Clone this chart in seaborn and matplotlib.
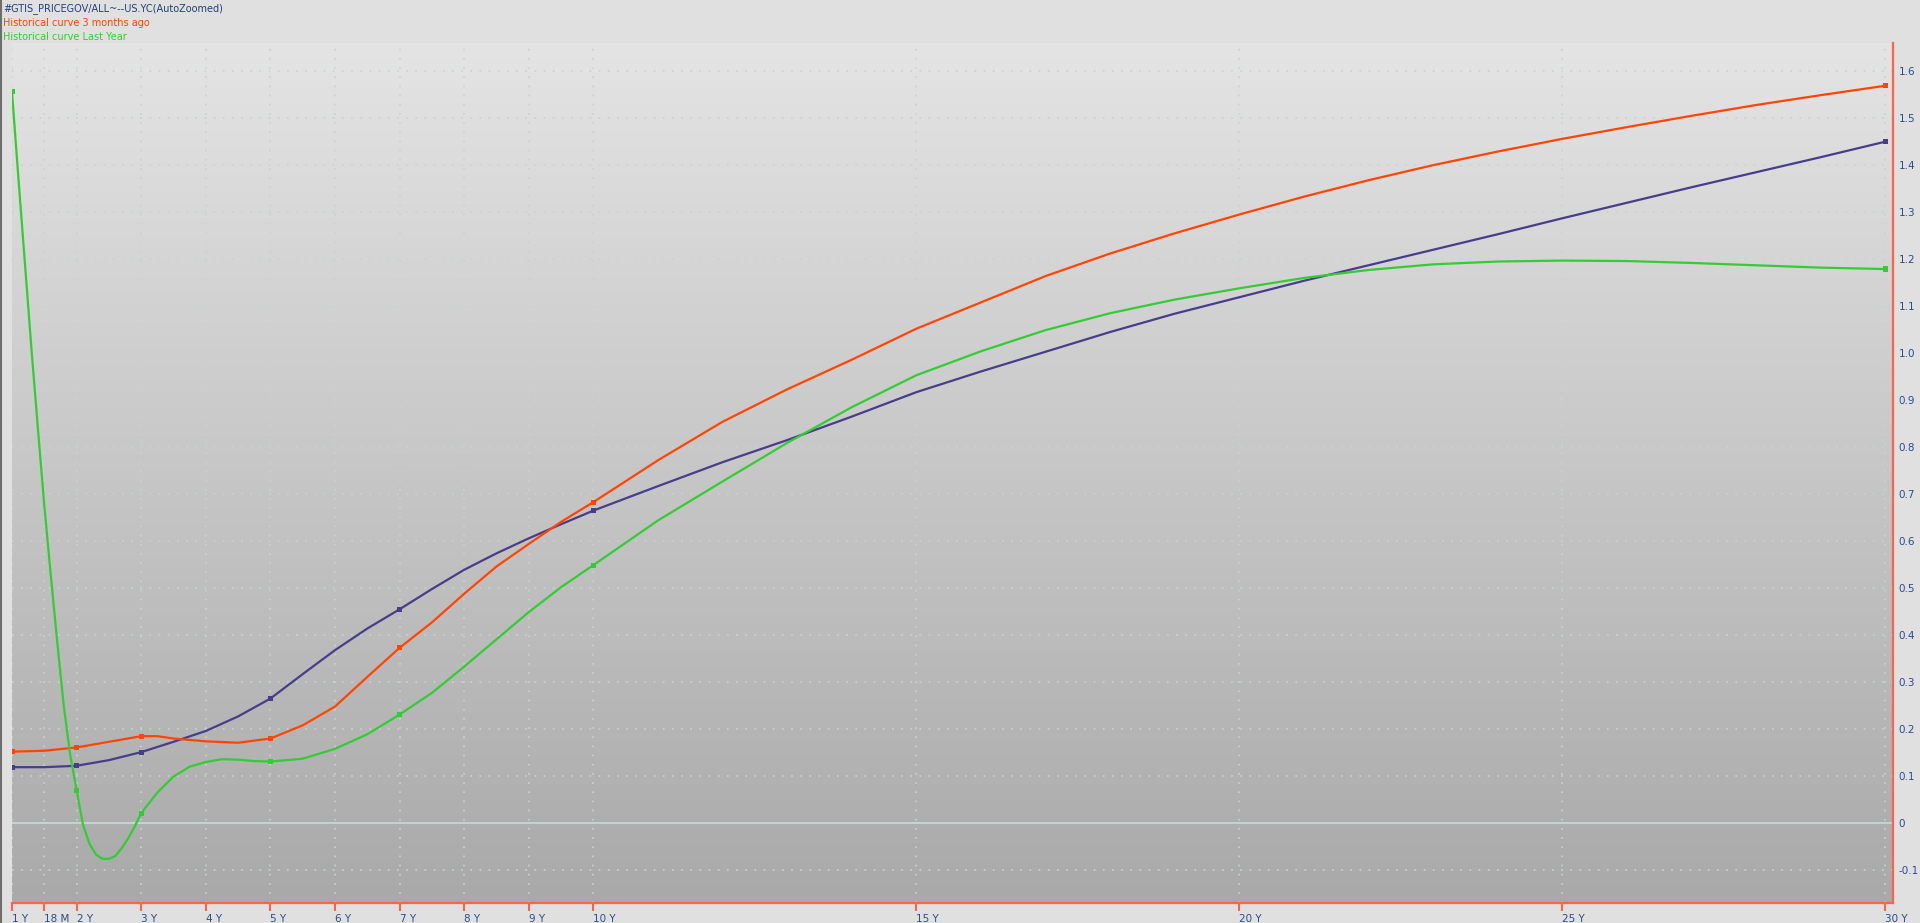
import numpy as np
import pandas as pd
import matplotlib
matplotlib.use("Agg")
import matplotlib.pyplot as plt
from matplotlib.colors import LinearSegmentedColormap
from matplotlib.lines import Line2D
import seaborn as sns

# --- data (tenor in years, yield in %) ---
CURRENT_T = [1, 1.5, 2, 2.5, 3, 3.5, 4, 4.5, 5, 5.5, 6, 6.5, 7, 7.5, 8, 8.5, 9, 9.5, 10,
             11, 12, 13, 14, 15, 16, 17, 18, 19, 20, 21, 22, 23, 24, 25, 26, 27, 28, 29, 30]
CURRENT_V = [0.118, 0.118, 0.121, 0.133, 0.150, 0.172, 0.195, 0.226, 0.264, 0.316, 0.367,
             0.413, 0.454, 0.497, 0.538, 0.573, 0.605, 0.635, 0.664, 0.716, 0.767, 0.814,
             0.864, 0.916, 0.960, 1.002, 1.044, 1.083, 1.118, 1.153, 1.186, 1.219, 1.252,
             1.286, 1.319, 1.352, 1.384, 1.416, 1.449]

M3_T = [1, 1.5, 2, 2.5, 3, 3.25, 3.5, 4, 4.5, 5, 5.5, 6, 6.5, 7, 7.5, 8, 8.5, 9, 9.5, 10,
        11, 12, 13, 14, 15, 16, 17, 18, 19, 20, 21, 22, 23, 24, 25, 26, 27, 28, 29, 30]
M3_V = [0.151, 0.153, 0.160, 0.172, 0.184, 0.184, 0.179, 0.173, 0.170, 0.179, 0.207, 0.247,
        0.310, 0.372, 0.426, 0.487, 0.545, 0.593, 0.640, 0.682, 0.771, 0.853, 0.922, 0.985,
        1.051, 1.107, 1.163, 1.211, 1.254, 1.294, 1.332, 1.367, 1.399, 1.428, 1.455, 1.480,
        1.504, 1.527, 1.548, 1.568]

Y1_T = [1, 1.1, 1.2, 1.3, 1.4, 1.5, 1.6, 1.7, 1.8, 1.9, 2, 2.1, 2.2, 2.3, 2.4, 2.5, 2.6,
        2.7, 2.8, 2.9, 3, 3.25, 3.5, 3.75, 4, 4.25, 4.5, 4.75, 5, 5.5, 6, 6.5, 7, 7.5, 8,
        8.5, 9, 9.5, 10, 11, 12, 13, 14, 15, 16, 17, 18, 19, 20, 21, 22, 23, 24, 25, 26,
        27, 28, 29, 30]
Y1_V = [1.555, 1.37, 1.19, 1.01, 0.84, 0.675, 0.527, 0.385, 0.25, 0.145, 0.069, -0.005,
        -0.045, -0.068, -0.077, -0.077, -0.071, -0.054, -0.033, -0.008, 0.020, 0.064,
        0.098, 0.119, 0.129, 0.135, 0.134, 0.131, 0.130, 0.136, 0.157, 0.188, 0.230, 0.276,
        0.332, 0.390, 0.448, 0.501, 0.548, 0.643, 0.726, 0.808, 0.884, 0.952, 1.003, 1.048,
        1.084, 1.113, 1.137, 1.159, 1.176, 1.188, 1.194, 1.196, 1.195, 1.191, 1.186, 1.181,
        1.178]

NODE_TENORS = [1, 2, 3, 5, 7, 10, 30]

X_TICKS = [1, 1.5, 2, 3, 4, 5, 6, 7, 8, 9, 10, 15, 20, 25, 30]
X_LABELS = ["1 Y", "18 M", "2 Y", "3 Y", "4 Y", "5 Y", "6 Y", "7 Y", "8 Y", "9 Y",
            "10 Y", "15 Y", "20 Y", "25 Y", "30 Y"]
Y_TICKS = [-0.1, 0, 0.1, 0.2, 0.3, 0.4, 0.5, 0.6, 0.7, 0.8, 0.9, 1.0, 1.1, 1.2, 1.3,
           1.4, 1.5, 1.6]

TITLE = "#GTIS_PRICEGOV/ALL~--US.YC(AutoZoomed)"
CURVES = ["US.YC", "Historical curve 3 months ago", "Historical curve Last Year"]
COLORS = {"US.YC": "#483d8b",
          "Historical curve 3 months ago": "#ff4500",
          "Historical curve Last Year": "#32cd32"}

df = pd.concat([
    pd.DataFrame({"Tenor": CURRENT_T, "Yield": CURRENT_V, "Curve": CURVES[0]}),
    pd.DataFrame({"Tenor": M3_T, "Yield": M3_V, "Curve": CURVES[1]}),
    pd.DataFrame({"Tenor": Y1_T, "Yield": Y1_V, "Curve": CURVES[2]}),
], ignore_index=True)
nodes = df[df["Tenor"].isin(NODE_TENORS)]

sns.set_style("white")
plt.rcParams["font.family"] = ["DejaVu Sans"]

W, H = 1920, 923
fig = plt.figure(figsize=(W / 100, H / 100), dpi=100, facecolor="#e0e0e0")
ax = fig.add_axes([12 / W, 20 / H, 1881 / W, 860 / H])
ax.set_facecolor("#c8c8c8")

# gradient background of the plot area
grad = LinearSegmentedColormap.from_list("bg", ["#a9a9a9", "#e4e4e4"])
ax.imshow(np.linspace(0, 1, 256).reshape(-1, 1), extent=[0, 1, 0, 1],
          transform=ax.transAxes, cmap=grad, aspect="auto", origin="lower", zorder=0)

grid_col = "#c6d4d0"
for x in X_TICKS:
    ax.axvline(x, color=grid_col, lw=1.2, ls=(0, (1, 4.5)), zorder=1)
for y in Y_TICKS:
    if y != 0:
        ax.axhline(y, color=grid_col, lw=1.2, ls=(0, (1, 4.5)), zorder=1)
ax.axhline(0, color="#c8d6d6", lw=1.3, zorder=1)

sns.lineplot(data=df, x="Tenor", y="Yield", hue="Curve", hue_order=CURVES,
             palette=COLORS, estimator=None, sort=False, lw=1.6, legend=False,
             ax=ax, zorder=3)
sns.scatterplot(data=nodes, x="Tenor", y="Yield", hue="Curve", hue_order=CURVES,
                palette=COLORS, marker="s", s=14, linewidth=0, legend=False,
                ax=ax, zorder=4)

ax.set_xlim(1, 30.12)
ax.set_ylim(-0.171, 1.659)

spine_col = "#ff6347"
for side in ["left", "top"]:
    ax.spines[side].set_visible(False)
for side in ["right", "bottom"]:
    ax.spines[side].set_color(spine_col)
    ax.spines[side].set_linewidth(1.6)

lab_col = "#2a4d8c"
ax.set_xticks(X_TICKS)
ax.set_xticklabels(X_LABELS)
for lab in ax.get_xticklabels():
    lab.set_horizontalalignment("left")
ax.tick_params(axis="x", direction="out", length=6, width=1.5, color=spine_col,
               labelcolor=lab_col, labelsize=7.5, pad=2, bottom=True)

ax.yaxis.tick_right()
ax.set_yticks(Y_TICKS)
ax.set_yticklabels(["0" if abs(v) < 1e-9 else f"{v:.1f}" for v in Y_TICKS])
ax.tick_params(axis="y", length=0, labelcolor=lab_col, labelsize=7.5, pad=4,
               right=True, left=False)
ax.set_xlabel("")
ax.set_ylabel("")

# header texts
fig.text(3 / W, 1 - 9 / H, TITLE, color="#22407a", fontsize=7, va="center", ha="left")
fig.text(3 / W, 1 - 23 / H, CURVES[1], color="#ff4500", fontsize=7, va="center", ha="left")
fig.text(3 / W, 1 - 37 / H, CURVES[2], color="#32cd32", fontsize=7, va="center", ha="left")

# left window border
fig.add_artist(Line2D([1 / W, 1 / W], [0, 1], transform=fig.transFigure,
                      color="#6e6e6e", lw=1.5))

fig.savefig("out.png", dpi=100, facecolor=fig.get_facecolor())
